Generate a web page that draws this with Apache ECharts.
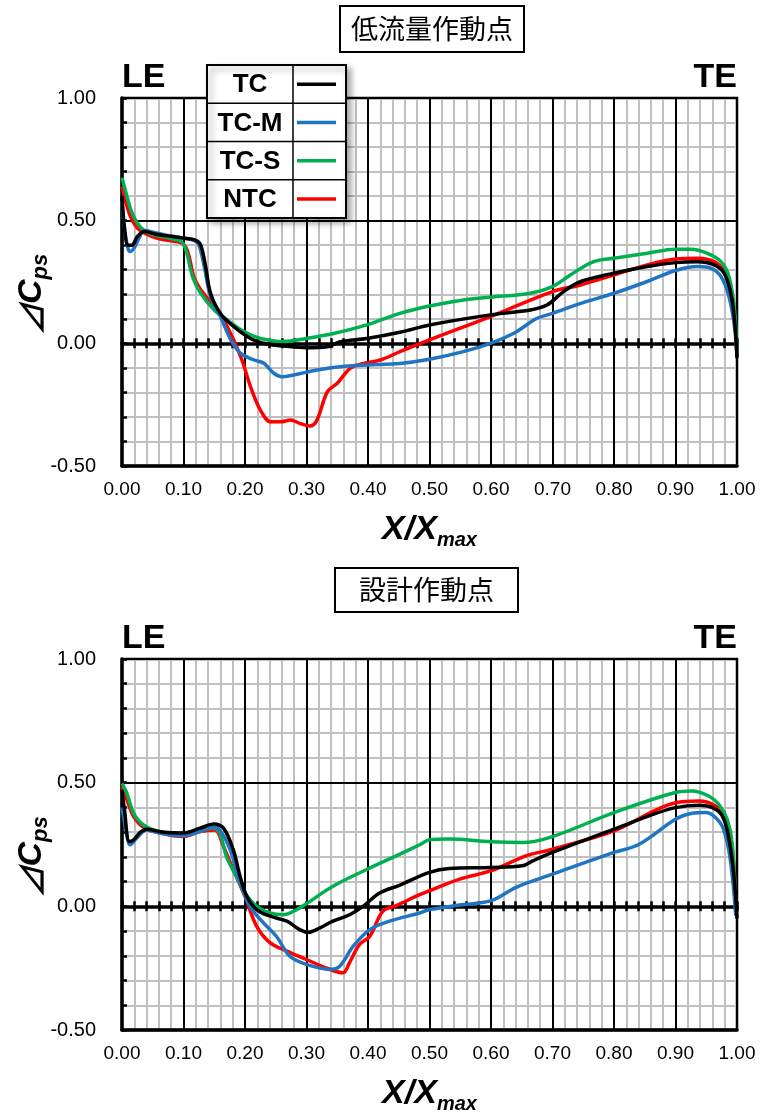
<!DOCTYPE html>
<html>
<head>
<meta charset="utf-8">
<script src="https://cdn.jsdelivr.net/npm/echarts@6/dist/echarts.min.js"></script>
<style>
  html, body { margin: 0; padding: 0; background: #ffffff; }
  #chart { width: 761px; height: 1113px; }
</style>
</head>
<body>
<div id="chart"></div>
<script>
// Blade-loading curves: ΔCps along the chord (X/Xmax), two operating points
const seriesNames  = ['TC', 'TC-M', 'TC-S', 'NTC'];
const seriesColors = ['#000000', '#1f74c4', '#00b050', '#ff0000'];
const panelTitles  = ['低流量作動点', '設計作動点'];
const edgeLabels   = ['LE', 'TE'];
const xRange = [0, 1];
const yRange = [-0.5, 1];

// ---- 低流量作動点 : [X/Xmax, ΔCps] ----
const lowTC = [[0.000,0.60],[0.004,0.47],[0.010,0.40],[0.016,0.40],[0.025,0.435],[0.036,0.456],[0.055,0.445],[0.074,0.438],[0.100,0.429],[0.120,0.420],[0.128,0.400],[0.136,0.313],[0.144,0.204],[0.160,0.122],[0.182,0.068],[0.209,0.020],[0.236,-0.003],[0.263,-0.011],[0.300,-0.018],[0.334,-0.014],[0.355,0.007],[0.398,0.020],[0.452,0.045],[0.500,0.075],[0.599,0.116],[0.664,0.136],[0.691,0.156],[0.718,0.211],[0.746,0.252],[0.800,0.286],[0.854,0.313],[0.900,0.329],[0.936,0.333],[0.963,0.320],[0.979,0.286],[0.990,0.204],[0.996,0.095],[1.000,-0.060]];
const lowTCM = [[0.000,0.58],[0.005,0.45],[0.010,0.385],[0.0135,0.374],[0.020,0.390],[0.028,0.430],[0.036,0.460],[0.055,0.450],[0.074,0.440],[0.096,0.430],[0.117,0.420],[0.125,0.400],[0.134,0.310],[0.144,0.190],[0.160,0.109],[0.177,0.014],[0.193,-0.041],[0.215,-0.068],[0.231,-0.082],[0.247,-0.122],[0.260,-0.136],[0.279,-0.129],[0.317,-0.109],[0.355,-0.095],[0.398,-0.088],[0.452,-0.082],[0.500,-0.065],[0.555,-0.034],[0.599,0.000],[0.637,0.041],[0.675,0.102],[0.700,0.122],[0.746,0.163],[0.800,0.204],[0.854,0.252],[0.900,0.297],[0.936,0.313],[0.958,0.306],[0.974,0.272],[0.987,0.190],[0.996,0.068],[1.000,-0.050]];
const lowTCS = [[0.000,0.675],[0.008,0.600],[0.015,0.540],[0.025,0.490],[0.036,0.460],[0.055,0.440],[0.074,0.430],[0.096,0.415],[0.104,0.380],[0.115,0.270],[0.128,0.204],[0.150,0.136],[0.171,0.095],[0.198,0.048],[0.225,0.020],[0.263,0.007],[0.300,0.020],[0.344,0.040],[0.398,0.075],[0.452,0.122],[0.500,0.152],[0.555,0.177],[0.599,0.188],[0.664,0.204],[0.700,0.231],[0.729,0.279],[0.767,0.333],[0.800,0.347],[0.854,0.367],[0.900,0.384],[0.925,0.384],[0.952,0.367],[0.974,0.333],[0.987,0.272],[0.996,0.136],[1.000,-0.050]];
const lowNTC = [[0.000,0.640],[0.008,0.560],[0.015,0.510],[0.025,0.470],[0.036,0.450],[0.055,0.430],[0.074,0.420],[0.096,0.410],[0.106,0.380],[0.117,0.270],[0.128,0.218],[0.150,0.150],[0.171,0.068],[0.193,-0.054],[0.209,-0.177],[0.225,-0.272],[0.242,-0.320],[0.258,-0.320],[0.274,-0.313],[0.290,-0.327],[0.306,-0.337],[0.317,-0.313],[0.334,-0.197],[0.350,-0.163],[0.371,-0.102],[0.393,-0.082],[0.420,-0.068],[0.452,-0.034],[0.500,0.014],[0.599,0.109],[0.700,0.211],[0.746,0.238],[0.800,0.279],[0.854,0.320],[0.900,0.344],[0.936,0.347],[0.963,0.333],[0.979,0.293],[0.990,0.204],[0.996,0.100],[1.000,-0.050]];

// ---- 設計作動点 : [X/Xmax, ΔCps] ----
const desTC = [[0.000,0.470],[0.004,0.390],[0.012,0.262],[0.019,0.269],[0.030,0.300],[0.040,0.312],[0.062,0.302],[0.100,0.296],[0.127,0.316],[0.149,0.333],[0.165,0.316],[0.181,0.228],[0.192,0.121],[0.203,0.040],[0.219,-0.013],[0.241,-0.040],[0.268,-0.060],[0.289,-0.094],[0.303,-0.105],[0.322,-0.087],[0.343,-0.060],[0.370,-0.034],[0.392,0.000],[0.419,0.054],[0.451,0.085],[0.500,0.137],[0.532,0.153],[0.600,0.157],[0.651,0.164],[0.668,0.184],[0.700,0.218],[0.800,0.312],[0.857,0.366],[0.900,0.399],[0.938,0.409],[0.960,0.399],[0.976,0.366],[0.986,0.285],[0.995,0.124],[1.000,-0.050]];
const desTCM = [[0.000,0.400],[0.005,0.330],[0.0135,0.249],[0.024,0.276],[0.040,0.309],[0.062,0.296],[0.100,0.285],[0.127,0.302],[0.149,0.320],[0.159,0.309],[0.176,0.228],[0.192,0.094],[0.208,0.000],[0.230,-0.067],[0.251,-0.121],[0.273,-0.202],[0.300,-0.235],[0.338,-0.255],[0.354,-0.242],[0.376,-0.161],[0.403,-0.094],[0.435,-0.060],[0.484,-0.027],[0.500,-0.013],[0.549,0.005],[0.600,0.023],[0.641,0.077],[0.700,0.130],[0.800,0.218],[0.841,0.251],[0.900,0.352],[0.927,0.376],[0.949,0.379],[0.965,0.359],[0.978,0.312],[0.989,0.191],[0.998,-0.038]];
const desTCS = [[0.000,0.497],[0.008,0.457],[0.019,0.376],[0.035,0.329],[0.062,0.302],[0.100,0.296],[0.127,0.309],[0.149,0.316],[0.159,0.296],[0.170,0.200],[0.186,0.121],[0.200,0.054],[0.219,0.000],[0.241,-0.027],[0.262,-0.034],[0.284,-0.013],[0.300,0.011],[0.343,0.081],[0.397,0.148],[0.451,0.210],[0.484,0.249],[0.500,0.269],[0.532,0.272],[0.600,0.261],[0.651,0.258],[0.700,0.282],[0.800,0.379],[0.900,0.460],[0.927,0.466],[0.954,0.446],[0.970,0.413],[0.984,0.352],[0.992,0.258],[0.998,-0.010]];
const desNTC = [[0.000,0.484],[0.008,0.430],[0.019,0.363],[0.035,0.320],[0.062,0.296],[0.100,0.282],[0.127,0.302],[0.151,0.309],[0.165,0.242],[0.181,0.148],[0.200,0.040],[0.219,-0.081],[0.241,-0.148],[0.268,-0.181],[0.300,-0.215],[0.332,-0.249],[0.359,-0.269],[0.370,-0.228],[0.386,-0.155],[0.403,-0.121],[0.424,-0.020],[0.446,0.003],[0.484,0.047],[0.500,0.063],[0.549,0.110],[0.600,0.144],[0.657,0.204],[0.700,0.231],[0.800,0.305],[0.900,0.419],[0.938,0.426],[0.965,0.406],[0.980,0.360],[0.992,0.240],[0.998,0.000]];

const panelData = [
  [lowTC, lowTCM, lowTCS, lowNTC],
  [desTC, desTCM, desTCS, desNTC]
];

// ---- layout ----
const grids = [
  { left: 122, top: 98,  width: 615, height: 368 },
  { left: 122, top: 659, width: 615, height: 371 }
];
const GRAY = '#c0c0c0';
const LABEL_FONT = 'Liberation Sans';
const fmt2 = v => Number(v).toFixed(2);

function xAxesFor(g) {
  const base = { gridIndex: g, type: 'value', min: xRange[0], max: xRange[1], interval: 0.1, position: 'bottom' };
  return [
    // light minor verticals every 0.02
    Object.assign({}, base, {
      z: 0,
      axisLine: { show: false, onZero: false }, axisTick: { show: false }, axisLabel: { show: false },
      splitLine: { show: false },
      minorTick: { show: false, splitNumber: 5 },
      minorSplitLine: { show: true, lineStyle: { color: GRAY, width: 2 } }
    }),
    // frame axis with tick labels and black verticals every 0.1
    Object.assign({}, base, {
      z: 1,
      axisLine: { onZero: false, lineStyle: { color: '#000', width: 3.5 } },
      axisTick: { show: false },
      axisLabel: { margin: 14, fontSize: 19, color: '#000', fontFamily: LABEL_FONT, formatter: fmt2 },
      splitLine: { show: true, lineStyle: { color: '#000', width: 2 } },
      name: '{a|X/X}{b|max}',
      nameLocation: 'middle',
      nameGap: 44,
      nameTextStyle: {
        rich: {
          a: { fontSize: 34, fontWeight: 'bold', fontStyle: 'italic', fontFamily: LABEL_FONT, color: '#000', lineHeight: 40 },
          b: { fontSize: 20, fontWeight: 'bold', fontStyle: 'italic', fontFamily: LABEL_FONT, color: '#000', lineHeight: 20, verticalAlign: 'bottom' }
        }
      }
    }),
    // zero line, ticks pointing down
    Object.assign({}, base, {
      z: 1,
      axisLine: { show: true, onZero: true, lineStyle: { color: '#000', width: 3.5 } },
      axisTick: { show: true, inside: false, length: 5, lineStyle: { color: '#000', width: 2.5 } },
      minorTick: { show: true, splitNumber: 5, length: 5, lineStyle: { color: '#000', width: 2.5 } },
      axisLabel: { show: false }, splitLine: { show: false }
    }),
    // zero line, ticks pointing up
    Object.assign({}, base, {
      z: 1,
      axisLine: { show: false, onZero: true },
      axisTick: { show: true, inside: true, length: 5, lineStyle: { color: '#000', width: 2.5 } },
      minorTick: { show: true, splitNumber: 5, length: 5, lineStyle: { color: '#000', width: 2.5 } },
      axisLabel: { show: false }, splitLine: { show: false }
    })
  ];
}

function yAxesFor(g) {
  const base = { gridIndex: g, type: 'value', min: yRange[0], max: yRange[1], interval: 0.5, position: 'left' };
  return [
    Object.assign({}, base, {
      z: 0,
      axisLine: { show: false, onZero: false }, axisTick: { show: false }, axisLabel: { show: false },
      splitLine: { show: false },
      minorTick: { show: false, splitNumber: 5 },
      minorSplitLine: { show: true, lineStyle: { color: GRAY, width: 2 } }
    }),
    Object.assign({}, base, {
      z: 1,
      axisLine: { onZero: false, lineStyle: { color: '#000', width: 3.5 } },
      axisTick: { show: true, inside: true, length: 5, lineStyle: { color: '#000', width: 2.5 } },
      minorTick: { show: true, splitNumber: 5, length: 5, lineStyle: { color: '#000', width: 2.5 } },
      axisLabel: { margin: 26, fontSize: 20, color: '#000', fontFamily: LABEL_FONT, formatter: fmt2 },
      splitLine: { show: true, lineStyle: { color: '#000', width: 2 } },
      name: '{t|⊿}{a|C}{b|ps}',
      nameLocation: 'middle',
      nameRotate: 90,
      nameGap: 70,
      nameMoveOverlap: false,
      nameTextStyle: {
        padding: [0, 26, 0, 0],
        rich: {
          t: { fontSize: 32, fontWeight: 'bold', fontStyle: 'italic', fontFamily: 'Noto Sans CJK JP', color: '#000', lineHeight: 40 },
          a: { fontSize: 34, fontWeight: 'bold', fontStyle: 'italic', fontFamily: LABEL_FONT, color: '#000', lineHeight: 40 },
          b: { fontSize: 22, fontWeight: 'bold', fontStyle: 'italic', fontFamily: LABEL_FONT, color: '#000', lineHeight: 22, verticalAlign: 'bottom' }
        }
      }
    })
  ];
}

const xAxis = [], yAxis = [], series = [];
grids.forEach((g, gi) => {
  xAxis.push(...xAxesFor(gi));
  yAxis.push(...yAxesFor(gi));
  // draw red, green, blue, then black on top
  [3, 2, 1, 0].forEach(si => {
    series.push({
      name: seriesNames[si],
      type: 'line',
      xAxisIndex: gi * 4 + 1,
      yAxisIndex: gi * 2 + 1,
      data: panelData[gi][si],
      smooth: 0.35,
      showSymbol: false,
      lineStyle: { color: seriesColors[si], width: 3.5 },
      itemStyle: { color: seriesColors[si] },
      z: 2
    });
  });
});

// panel titles in framed boxes
const title = [
  { text: panelTitles[0], left: 340, top: 6, padding: [9, 11] },
  { text: panelTitles[1], left: 335, top: 568, padding: [8, 24] }
].map(t => Object.assign(t, {
  borderColor: '#000', borderWidth: 2, backgroundColor: '#fff',
  textStyle: { fontSize: 27, fontWeight: 'normal', fontFamily: 'Noto Sans CJK JP', color: '#000', lineHeight: 28 }
}));

// LE / TE markers above each panel, and the series key table
const graphic = [];
grids.forEach(g => {
  graphic.push({
    type: 'text', x: g.left, y: g.top - 20, z: 10,
    style: { text: edgeLabels[0], font: 'bold 34px "Liberation Sans"', fill: '#000',
             align: 'left', verticalAlign: 'middle', textAlign: 'left', textVerticalAlign: 'middle' }
  });
  graphic.push({
    type: 'text', x: g.left + g.width, y: g.top - 20, z: 10,
    style: { text: edgeLabels[1], font: 'bold 34px "Liberation Sans"', fill: '#000',
             align: 'right', verticalAlign: 'middle', textAlign: 'right', textVerticalAlign: 'middle' }
  });
});

const KZ = 30;
const keyBox = { x: 207, y: 65, w: 139, rowH: 38.25, colX: 86 };
const keyChildren = [{
  type: 'rect', z: KZ,
  shape: { x: 0, y: 0, width: keyBox.w, height: keyBox.rowH * seriesNames.length },
  style: { fill: '#fff', stroke: '#000', lineWidth: 2,
           shadowBlur: 6, shadowOffsetX: 4, shadowOffsetY: 4, shadowColor: 'rgba(0,0,0,0.35)' }
}, {
  type: 'line', z: KZ + 1,
  shape: { x1: keyBox.colX, y1: 0, x2: keyBox.colX, y2: keyBox.rowH * seriesNames.length },
  style: { stroke: '#000', lineWidth: 1.5 }
}];
seriesNames.forEach((name, i) => {
  const cy = keyBox.rowH * (i + 0.5);
  if (i > 0) {
    keyChildren.push({ type: 'line', z: KZ + 1,
                       shape: { x1: 0, y1: keyBox.rowH * i, x2: keyBox.w, y2: keyBox.rowH * i },
                       style: { stroke: '#000', lineWidth: 1.5 } });
  }
  keyChildren.push({
    type: 'text', z: KZ + 1, x: keyBox.colX / 2, y: cy + 1,
    style: { text: name, font: 'bold 26px "Liberation Sans"', fill: '#000',
             align: 'center', verticalAlign: 'middle', textAlign: 'center', textVerticalAlign: 'middle' }
  });
  keyChildren.push({ type: 'line', z: KZ + 1, shape: { x1: 90, y1: cy, x2: 129, y2: cy },
                     style: { stroke: seriesColors[i], lineWidth: 3.5 } });
});
graphic.push({ type: 'group', x: keyBox.x, y: keyBox.y, z: KZ, children: keyChildren });

const chart = echarts.init(document.getElementById('chart'), null, { renderer: 'canvas' });
chart.setOption({
  animation: false,
  backgroundColor: '#ffffff',
  title,
  grid: grids.map(g => Object.assign({}, g, {
    show: true, borderColor: '#000', borderWidth: 2.5, backgroundColor: '#fff',
    containLabel: false, outerBoundsMode: 'none'
  })),
  xAxis,
  yAxis,
  series,
  graphic
});
</script>
</body>
</html>
